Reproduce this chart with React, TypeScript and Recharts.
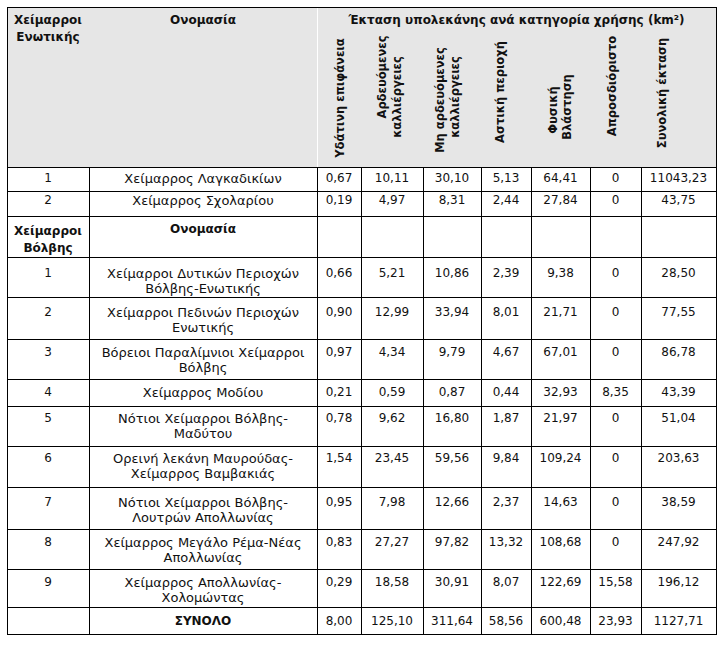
import { ScatterChart, Scatter, XAxis, YAxis, ReferenceArea, ReferenceLine } from 'recharts';

// --- table content ---
const enotikiIds = ['1', '2'];
const enotikiNames = [['Χείμαρρος Λαγκαδικίων'], ['Χείμαρρος Σχολαρίου']];

const volviIds = ['1', '2', '3', '4', '5', '6', '7', '8', '9'];
const volviNames = [
  ['Χείμαρροι Δυτικών Περιοχών', 'Βόλβης-Ενωτικής'],
  ['Χείμαρροι Πεδινών Περιοχών', 'Ενωτικής'],
  ['Βόρειοι Παραλίμνιοι Χείμαρροι', 'Βόλβης'],
  ['Χείμαρρος Μοδίου'],
  ['Νότιοι Χείμαρροι Βόλβης-', 'Μαδύτου'],
  ['Ορεινή λεκάνη Μαυρούδας-', 'Χείμαρρος Βαμβακιάς'],
  ['Νότιοι Χείμαρροι Βόλβης-', 'Λουτρών Απολλωνίας'],
  ['Χείμαρρος Μεγάλο Ρέμα-Νέας', 'Απολλωνίας'],
  ['Χείμαρρος Απολλωνίας-', 'Χολομώντας'],
];

const useCategories = [
  ['Υδάτινη επιφάνεια'],
  ['Αρδευόμενες', 'καλλιέργειες'],
  ['Μη αρδευόμενες', 'καλλιέργειες'],
  ['Αστική περιοχή'],
  ['Φυσική', 'Βλάστηση'],
  ['Απροσδιόριστο'],
  ['Συνολική έκταση'],
];

// rows: 2 Ενωτική torrents, then 9 Βόλβη torrents
const waterSurface = [0.67, 0.19, 0.66, 0.9, 0.97, 0.21, 0.78, 1.54, 0.95, 0.83, 0.29];
const irrigated = [10.11, 4.97, 5.21, 12.99, 4.34, 0.59, 9.62, 23.45, 7.98, 27.27, 18.58];
const nonIrrigated = [30.1, 8.31, 10.86, 33.94, 9.79, 0.87, 16.8, 59.56, 12.66, 97.82, 30.91];
const urban = [5.13, 2.44, 2.39, 8.01, 4.67, 0.44, 1.87, 9.84, 2.37, 13.32, 8.07];
const natural = [64.41, 27.84, 9.38, 21.71, 67.01, 32.93, 21.97, 109.24, 14.63, 108.68, 122.69];
const undefinedUse = [0, 0, 0, 0, 0, 8.35, 0, 0, 0, 0, 15.58];
const totalArea = [11043.23, 43.75, 28.5, 77.55, 86.78, 43.39, 51.04, 203.63, 38.59, 247.92, 196.12];
const totalsRow = [8.0, 125.1, 311.64, 58.56, 600.48, 23.93, 1127.71];

// --- layout ---
const W = 723;
const H = 645;
const COL_X = [7, 89, 317, 361, 423, 481, 531, 590, 641, 716];
const ROW_Y = [7, 167, 191, 216, 257, 297, 339, 379, 406, 446, 487, 529, 569, 607, 634];
// centre of first text line below each body row's top edge
const ROW_TEXT = [11, 9, 15, 16, 15, 13, 13, 12, 12, 15, 13, 13, 14];
const LINE_GAP = 15.5;
// rotated header lines: [x, centre y] per line
const ROT_POS = [
  [[340, 98]],
  [[382, 77], [397, 97]],
  [[440, 100], [455, 97]],
  [[500, 92]],
  [[553, 110], [567, 107]],
  [[612, 86]],
  [[662, 93]],
];

const FONT = '"DejaVu Sans", sans-serif';

const fmt = (v: number) => (v === 0 ? '0' : v.toFixed(2).replace('.', ','));
const colMid = (i: number) => (COL_X[i] + COL_X[i + 1]) / 2;

type Cell = { x: number; y: number; lines: string[]; bold?: boolean; rotate?: boolean; size?: number };

function buildCells(): Cell[] {
  const cells: Cell[] = [];
  // header
  cells.push({ x: colMid(0), y: 20, lines: ['Χείμαρροι', 'Ενωτικής'], bold: true });
  cells.push({ x: colMid(1), y: 20, lines: ['Ονομασία'], bold: true });
  cells.push({ x: (COL_X[2] + COL_X[9]) / 2, y: 20, lines: ['Έκταση υπολεκάνης ανά κατηγορία χρήσης (km²)'], bold: true });
  useCategories.forEach((lines, c) => {
    lines.forEach((t, k) => {
      const [x, y] = ROT_POS[c][k];
      cells.push({ x, y, lines: [t], bold: true, rotate: true, size: 11.5 });
    });
  });

  const series = [waterSurface, irrigated, nonIrrigated, urban, natural, undefinedUse, totalArea];
  const addRow = (rowIdx: number, dataIdx: number, id: string, name: string[]) => {
    const y = ROW_Y[rowIdx] + ROW_TEXT[rowIdx - 1];
    cells.push({ x: colMid(0), y, lines: [id] });
    cells.push({ x: colMid(1), y, lines: name, size: 13 });
    series.forEach((s, c) => cells.push({ x: colMid(c + 2), y, lines: [fmt(s[dataIdx])] }));
  };

  enotikiIds.forEach((id, i) => addRow(1 + i, i, id, enotikiNames[i]));
  const subY = ROW_Y[3] + ROW_TEXT[2];
  cells.push({ x: colMid(0), y: subY, lines: ['Χείμαρροι', 'Βόλβης'], bold: true });
  cells.push({ x: colMid(1), y: subY - 2, lines: ['Ονομασία'], bold: true });
  volviIds.forEach((id, i) => addRow(4 + i, 2 + i, id, volviNames[i]));

  const ty = ROW_Y[13] + ROW_TEXT[12];
  cells.push({ x: colMid(1), y: ty, lines: ['ΣΥΝΟΛΟ'], bold: true });
  totalsRow.forEach((v, c) => cells.push({ x: colMid(c + 2), y: ty, lines: [fmt(v)] }));
  return cells;
}

const cells = buildCells();

function CellText(props: any) {
  const { cx, cy, payload } = props;
  const p = payload as Cell;
  const size = p.size ?? 12;
  return (
    <text
      x={cx}
      y={cy}
      textAnchor="middle"
      fontFamily={FONT}
      fontSize={size}
      fontWeight={p.bold ? 'bold' : 'normal'}
      fill="#111"
      transform={p.rotate ? `rotate(-90 ${cx} ${cy})` : undefined}
    >
      {p.lines.map((t, k) => (
        <tspan key={k} x={cx} y={cy + k * (p.bold ? 17 : LINE_GAP)} dy="0.36em">
          {t}
        </tspan>
      ))}
    </text>
  );
}

export default function App() {
  const x0 = COL_X[0];
  const x1 = COL_X[COL_X.length - 1];
  const yTop = ROW_Y[0];
  const yHead = ROW_Y[1];
  const yBot = ROW_Y[ROW_Y.length - 1];
  const px = (v: number) => v + 0.5;

  return (
    <div style={{ width: W, height: H, background: '#fff' }}>
      <style>{'body{margin:0}'}</style>
      <ScatterChart width={W} height={H} margin={{ top: 0, right: 0, bottom: 0, left: 0 }}>
        <XAxis type="number" dataKey="x" domain={[0, W]} hide allowDataOverflow />
        <YAxis type="number" dataKey="y" domain={[0, H]} reversed hide allowDataOverflow />
        <ReferenceArea x1={x0} x2={x1} y1={yTop} y2={yHead} fill="#e6e6e6" fillOpacity={1} stroke="none" />
        <ReferenceLine
          segment={[{ x: px(COL_X[2]), y: yTop }, { x: px(COL_X[2]), y: yHead }]}
          stroke="#fff"
          strokeWidth={1}
        />
        {ROW_Y.map((y, i) => (
          <ReferenceLine
            key={`h${i}`}
            segment={[{ x: x0, y: px(y) }, { x: x1 + 1, y: px(y) }]}
            stroke="#000"
            strokeWidth={1}
          />
        ))}
        {COL_X.map((x, i) => {
          const outer = i === 0 || i === COL_X.length - 1;
          return (
            <ReferenceLine
              key={`v${i}`}
              segment={[{ x: px(x), y: outer ? yTop : yHead }, { x: px(x), y: yBot + 1 }]}
              stroke="#000"
              strokeWidth={1}
            />
          );
        })}
        <Scatter data={cells} isAnimationActive={false} shape={CellText} />
      </ScatterChart>
    </div>
  );
}
